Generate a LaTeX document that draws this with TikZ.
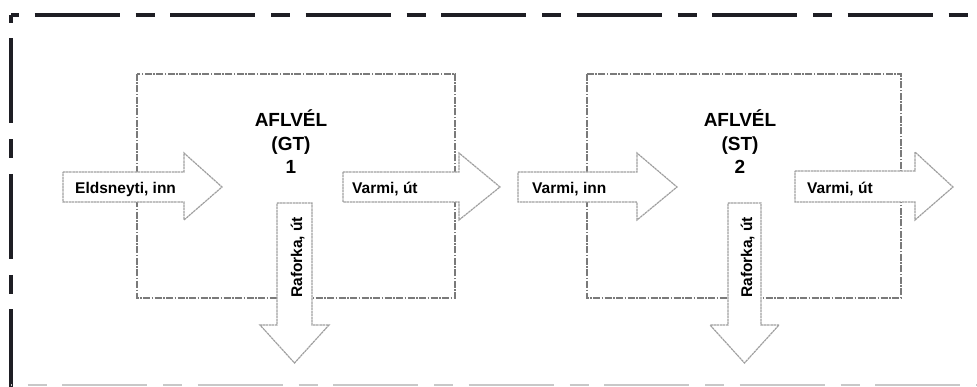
\documentclass[tikz,border=0pt]{standalone}
\usepackage{fontspec}
\setmainfont{Liberation Sans}
\definecolor{framedark}{HTML}{1E1E24}
\definecolor{framelight}{HTML}{C8C8C8}
\definecolor{boxline}{HTML}{7A7A7A}
\definecolor{arrline}{HTML}{A0A0A0}
\begin{document}
\begin{tikzpicture}[x=1pt,y=-1pt,
  frametop/.style={draw=framedark,line width=4pt,dash pattern=on 19pt off 15.5pt on 85pt off 16pt,dash phase=11pt},
  framebot/.style={draw=framelight,line width=2.5pt,dash pattern=on 19pt off 15.5pt on 85pt off 16pt,dash phase=119pt},
  procbox/.style={draw=boxline,line width=1.9pt,dash pattern=on 7pt off 1.5pt on 1.5pt off 1.5pt},
  blockarrow/.style={draw=arrline,fill=white,line width=1.2pt,dash pattern=on 2.5pt off 0.6pt,line join=miter},
  title/.style={font=\bfseries\fontsize{19}{23.5}\selectfont,align=center,inner sep=0pt},
  lbl/.style={font=\bfseries\fontsize{15.5}{18}\selectfont,inner sep=0pt}
]
\useasboundingbox (0,0) rectangle (977,387);
% outer frame
\draw[frametop] (11,15) -- (990,15);
\draw[frametop] (11,15) -- (11,400);
\draw[framebot] (11,385) -- (990,385);
% process boxes
\draw[procbox] (137,74) rectangle (455,298);
\draw[procbox] (587,74) rectangle (901,298);
% horizontal block arrows
\draw[blockarrow] (63,172) -- (184,172) -- (184,153) -- (222,187) -- (184,220) -- (184,202) -- (63,202) -- cycle;
\draw[blockarrow] (343,172) -- (459,172) -- (459,153) -- (500,187) -- (459,220) -- (459,202) -- (343,202) -- cycle;
\draw[blockarrow] (518,172) -- (637,172) -- (637,153) -- (677,187) -- (637,220) -- (637,202) -- (518,202) -- cycle;
\draw[blockarrow] (795,171) -- (915,171) -- (915,152) -- (953,187) -- (915,220) -- (915,202) -- (795,202) -- cycle;
% vertical block arrows
\draw[blockarrow] (277,203) -- (312,203) -- (312,325) -- (329,325) -- (294.5,363) -- (260,325) -- (277,325) -- cycle;
\draw[blockarrow] (728,203) -- (761,203) -- (761,325) -- (779,325) -- (744.5,363) -- (710,325) -- (728,325) -- cycle;
% titles
\node[title] (t1) at (291,142) {AFLVÉL\\(GT)\\1};
\node[title] (t2) at (740,142) {AFLVÉL\\(ST)\\2};
% arrow labels
\node[lbl,anchor=base west] (l1) at (75,193.5) {Eldsneyti, inn};
\node[lbl,anchor=base west] (l2) at (352,193.5) {Varmi, út};
\node[lbl,anchor=base west] (l3) at (532,193.5) {Varmi, inn};
\node[lbl,anchor=base west] (l4) at (807,193.5) {Varmi, út};
\node[lbl,anchor=base west,rotate=90] (l5) at (302,298) {Raforka, út};
\node[lbl,anchor=base west,rotate=90] (l6) at (752,298) {Raforka, út};
\end{tikzpicture}
\end{document}
